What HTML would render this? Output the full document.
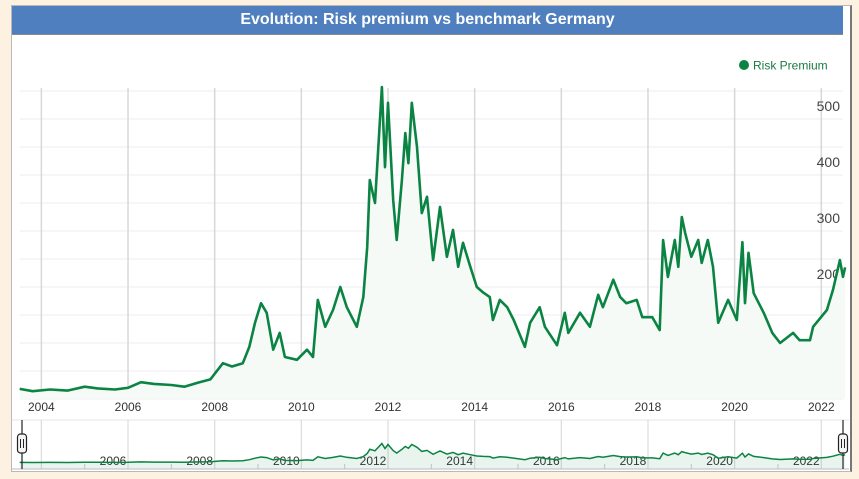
<!DOCTYPE html>
<html><head><meta charset="utf-8">
<style>
html,body{margin:0;padding:0;background:#fdf1e1;width:859px;height:479px;overflow:hidden;font-family:"Liberation Sans",Arial,sans-serif}
#box{position:absolute;left:11px;top:5px;width:838px;height:465px;background:#fff;border:1px solid #b9b9b9;border-right:2px solid #777}
#title{position:absolute;left:0;top:0;width:831px;height:28px;background:#4f7fbf;color:#fff;font-weight:bold;font-size:16px;line-height:28px;text-align:center;border-bottom:1px solid #8a8a8a}
svg{position:absolute;left:0;top:0}
</style></head><body>
<div id="box">
<div id="title">Evolution: Risk premium vs benchmark Germany</div>
</div>
<svg id="chart" width="859" height="479"></svg>
<script>
const years=[2004,2006,2008,2010,2012,2014,2016,2018,2020,2022];
const yTicks=[100,200,300,400,500];
const dates=[2003.5,2003.8,2004.2,2004.6,2005.0,2005.3,2005.7,2006.0,2006.3,2006.6,2007.0,2007.3,2007.65,2007.9,2008.19,2008.4,2008.65,2008.8,2008.93,2009.07,2009.2,2009.35,2009.5,2009.62,2009.9,2010.13,2010.27,2010.38,2010.55,2010.73,2010.9,2011.05,2011.28,2011.43,2011.52,2011.58,2011.7,2011.86,2011.93,2012.0,2012.12,2012.2,2012.32,2012.4,2012.47,2012.55,2012.67,2012.78,2012.9,2013.04,2013.2,2013.36,2013.5,2013.62,2013.73,2013.9,2014.05,2014.2,2014.35,2014.42,2014.58,2014.75,2014.9,2015.16,2015.28,2015.5,2015.62,2015.9,2016.08,2016.16,2016.43,2016.66,2016.85,2016.96,2017.2,2017.36,2017.5,2017.74,2017.87,2018.1,2018.27,2018.35,2018.46,2018.62,2018.7,2018.78,2018.86,2019.0,2019.16,2019.24,2019.38,2019.5,2019.62,2019.85,2020.05,2020.18,2020.24,2020.32,2020.44,2020.67,2020.87,2021.05,2021.35,2021.5,2021.74,2021.81,2022.13,2022.27,2022.43,2022.5,2022.55];
const values=[18,14,17,15,22,19,17,20,30,27,25,22,30,35,64,58,64,93,136,171,154,88,118,75,70,88,75,177,129,159,200,164,129,182,271,391,350,557,414,529,355,284,391,475,421,529,450,332,361,248,343,254,302,236,279,236,200,190,182,141,177,164,141,93,136,164,129,96,154,118,154,129,186,164,213,182,171,177,146,146,123,284,218,284,236,325,296,254,284,243,284,236,136,177,141,280,171,261,189,154,118,100,118,105,105,129,159,195,248,218,235];
const NS="http://www.w3.org/2000/svg";
const svg=document.getElementById('chart');
const t0=2003.5,t1=2022.55;
const x=t=>388+(t-2012)*43.33;
const y=v=>399-v*0.56;
const ny=v=>463-v*0.035;
function el(tag,attrs,parent){const e=document.createElementNS(NS,tag);for(const k in attrs)e.setAttribute(k,attrs[k]);(parent||svg).appendChild(e);return e;}
// horizontal grid
for(let v=0;v<=550;v+=50){if(y(v)<86)continue;const g=el('line',{x1:20,x2:843,y1:y(v),y2:y(v),stroke:'#ececf4','stroke-width':1});

}
// vertical grid + minor ticks
years.forEach(yr=>{const g=el('line',{x1:x(yr),x2:x(yr),y1:88,y2:397,stroke:'#d8d8d8','stroke-width':1.5});


const m=el('line',{x1:x(yr+1),x2:x(yr+1),y1:390,y2:397,stroke:'#d0d0d0','stroke-width':1});


const l=el('text',{x:x(yr),y:411,'text-anchor':'middle','font-size':12,fill:'#333'});l.textContent=yr;

});
const m0=el('line',{x1:x(2003),x2:x(2003),y1:390,y2:397,stroke:'#d0d0d0'});
yTicks.forEach(v=>{const l=el('text',{x:840,y:y(v)-8,'text-anchor':'end','font-size':14,fill:'#444'});l.textContent=v;

});
// series
let pts=dates.map((d,i)=>x(d).toFixed(1)+','+y(values[i]).toFixed(1));
const area=el('path',{d:'M'+x(dates[0])+','+y(0)+' L'+pts.join(' L')+' L'+x(dates[dates.length-1])+','+y(0)+' Z',fill:'#f5faf7'});


const line=el('path',{d:'M'+pts.join(' L'),fill:'none',stroke:'#0b8443','stroke-width':2.6,'stroke-linejoin':'round'});


// legend
const lg=el('g',{});


el('circle',{cx:744,cy:65,r:5,fill:'#0b8443'},lg);
const lt=el('text',{x:753,y:69.5,'font-size':12,fill:'#1a7a45'},lg);lt.textContent='Risk Premium';
// navigator
const nav=el('g',{});


el('line',{x1:12,x2:849,y1:420,y2:420,stroke:'#e4e4e4'},nav);
years.forEach(yr=>{el('line',{x1:x(yr),x2:x(yr),y1:420,y2:469,stroke:'#dcdcdc','stroke-width':1.2},nav);
el('line',{x1:x(yr+1),x2:x(yr+1),y1:464,y2:469,stroke:'#ccc'},nav);
if(yr>2004){const l=el('text',{x:x(yr)-15,y:465,'text-anchor':'middle','font-size':12,fill:'#333',stroke:'#fff','stroke-width':3,'paint-order':'stroke'},nav);l.textContent=yr;

}});
let npts=dates.map((d,i)=>x(d).toFixed(1)+','+ny(values[i]).toFixed(1));
el('path',{d:'M'+x(dates[0])+',469 L'+npts.join(' L')+' L'+x(dates[dates.length-1])+',469 Z',fill:'rgba(11,132,67,0.09)'},nav);
el('path',{d:'M'+npts.join(' L'),fill:'none',stroke:'#0b8443','stroke-width':1.5},nav);
el('line',{x1:12,x2:849,y1:469,y2:469,stroke:'#bbb'},nav);
[22,843].forEach((hx,i)=>{const h=el('g',{},nav);


el('line',{x1:hx,x2:hx,y1:420,y2:469,stroke:'#222','stroke-width':1.2},h);
el('rect',{x:hx-4.5,y:434,width:9,height:19,rx:3,fill:'#f5f5f5',stroke:'#222','stroke-width':1.2},h);
el('line',{x1:hx-1.5,x2:hx-1.5,y1:439,y2:448,stroke:'#222'},h);
el('line',{x1:hx+1.5,x2:hx+1.5,y1:439,y2:448,stroke:'#222'},h);});
</script>
</body></html>
